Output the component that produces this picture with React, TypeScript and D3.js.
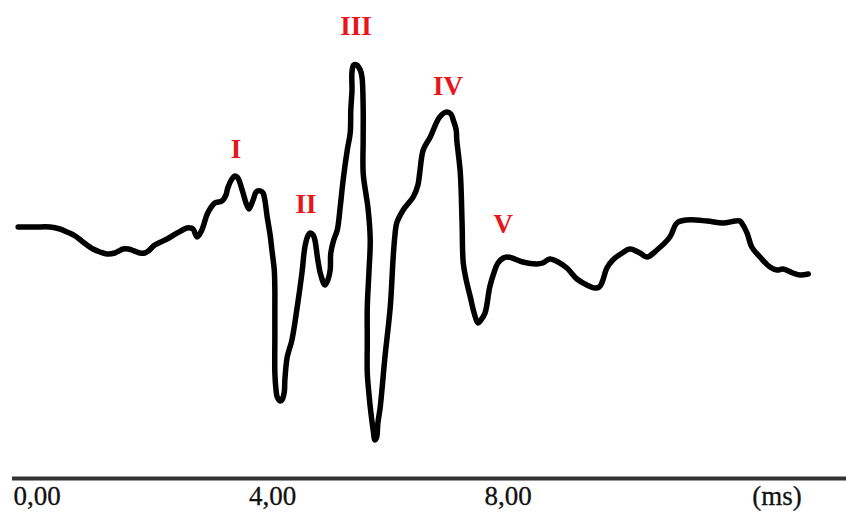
import { useEffect, useRef } from 'react';
import * as d3 from 'd3';

// trace of the evoked response
const timeMs = [
  -0.32, -0.03, 0.22, 0.39, 0.51, 0.65, 0.78, 0.95, 1.07, 1.19,
  1.32, 1.39, 1.46, 1.55, 1.61, 1.75, 1.83, 1.89, 2.0, 2.21,
  2.38, 2.55, 2.6, 2.65, 2.72, 2.8, 2.9, 3.02, 3.14, 3.21,
  3.24, 3.31, 3.36, 3.4, 3.43, 3.5, 3.55, 3.6, 3.67, 3.72,
  3.75, 3.8, 3.84, 3.87, 3.91, 3.96, 3.99, 4.03, 4.04, 4.04,
  4.04, 4.04, 4.06, 4.08, 4.13, 4.16, 4.2, 4.21, 4.25, 4.33,
  4.42, 4.5, 4.55, 4.6, 4.64, 4.69, 4.72, 4.77, 4.82, 4.89,
  4.94, 4.98, 4.99, 5.04, 5.1, 5.15, 5.2, 5.27, 5.32, 5.33,
  5.35, 5.35, 5.38, 5.43, 5.49, 5.52, 5.54, 5.54, 5.54, 5.59,
  5.62, 5.66, 5.64, 5.61, 5.61, 5.61, 5.64, 5.66, 5.71, 5.74,
  5.77, 5.79, 5.83, 5.91, 6.0, 6.05, 6.08, 6.11, 6.22, 6.39,
  6.47, 6.5, 6.56, 6.68, 6.84, 6.96, 7.03, 7.07, 7.12, 7.13,
  7.19, 7.22, 7.24, 7.29, 7.36, 7.42, 7.49, 7.54, 7.61, 7.69,
  7.76, 7.83, 7.92, 7.98, 8.07, 8.25, 8.49, 8.59, 8.71, 8.85,
  9.0, 9.17, 9.34, 9.48, 9.55, 9.6, 9.68, 9.78, 9.94, 10.07,
  10.24, 10.36, 10.53, 10.75, 10.87, 11.04, 11.38, 11.65, 11.86, 11.94,
  11.97, 12.06, 12.14, 12.28, 12.45, 12.57, 12.67, 12.84, 12.96, 13.1,
];

const amplitude = [
  0.46, 0.46, 0.46, 0.42, 0.36, 0.28, 0.16, 0.02, -0.04, -0.08,
  -0.06, -0.02, 0.02, 0.02, 0.0, -0.06, -0.06, -0.02, 0.1, 0.22,
  0.34, 0.44, 0.44, 0.42, 0.26, 0.4, 0.74, 0.94, 0.98, 1.1,
  1.24, 1.42, 1.48, 1.46, 1.4, 1.14, 0.94, 0.82, 1.0, 1.16,
  1.18, 1.18, 1.14, 1.0, 0.66, 0.3, 0.0, -0.4, -0.8, -1.14,
  -1.8, -2.46, -2.8, -2.94, -3.02, -3.0, -2.84, -2.6, -2.14, -1.8,
  -1.14, -0.46, 0.06, 0.28, 0.34, 0.3, 0.2, -0.2, -0.5, -0.7,
  -0.6, -0.4, -0.06, 0.2, 0.4, 0.86, 1.4, 2.0, 2.34, 2.8,
  3.2, 3.56, 3.7, 3.7, 3.6, 3.46, 2.86, 2.2, 1.54, 1.1,
  0.86, 0.2, -0.4, -1.14, -1.8, -2.46, -2.9, -3.14, -3.6, -3.8,
  -3.74, -3.46, -3.14, -2.14, -1.14, -0.14, 0.3, 0.54, 0.8, 1.06,
  1.3, 1.54, 2.0, 2.26, 2.66, 2.76, 2.72, 2.6, 2.4, 2.2,
  1.54, 0.54, -0.26, -0.6, -0.94, -1.24, -1.46, -1.4, -1.26, -0.74,
  -0.46, -0.26, -0.16, -0.14, -0.16, -0.24, -0.28, -0.26, -0.18, -0.24,
  -0.36, -0.58, -0.7, -0.76, -0.74, -0.64, -0.36, -0.2, -0.06, 0.02,
  -0.06, -0.14, 0.0, 0.26, 0.54, 0.6, 0.58, 0.54, 0.58, 0.58,
  0.54, 0.34, 0.06, -0.14, -0.34, -0.4, -0.38, -0.46, -0.5, -0.48,
];

// wave labels and where they sit (ms, amplitude of the text baseline)
const waveNames = ['I', 'II', 'III', 'IV', 'V'];
const waveLabelMs = [3.38, 4.57, 5.42, 6.98, 7.92];
const waveLabelAmp = [1.84, 0.74, 4.3, 3.1, 0.34];

const tickValues = [0, 4, 8];
const unitLabel = '(ms)';

const width = 846;
const height = 514;

const commaLocale = d3.formatLocale({
  decimal: ',',
  thousands: '.',
  grouping: [3],
  currency: ['', ''],
});
const fmt = commaLocale.format('.2f');

export default function App() {
  const svgRef = useRef<SVGSVGElement>(null);

  useEffect(() => {
    if (!svgRef.current) return;
    const svg = d3.select(svgRef.current);
    svg.selectAll('*').remove();

    const xScale = d3.scaleLinear().domain([0, 8]).range([37, 508]);
    const yScale = d3.scaleLinear().domain([-5, 5]).range([500, 0]);

    const axisY = 478.5;
    const serif = '"Liberation Serif", "Times New Roman", serif';

    // baseline axis
    svg.append('line')
      .attr('x1', 12)
      .attr('x2', width)
      .attr('y1', axisY)
      .attr('y2', axisY)
      .attr('stroke', '#333')
      .attr('stroke-width', 4);

    svg.append('g')
      .selectAll('text')
      .data(tickValues)
      .join('text')
      .attr('x', d => xScale(d))
      .attr('y', 505)
      .attr('text-anchor', 'middle')
      .attr('font-family', serif)
      .attr('font-size', 27)
      .attr('fill', '#111')
      .attr('stroke', '#111')
      .attr('stroke-width', 0.3)
      .text(d => fmt(d));

    svg.append('text')
      .attr('x', 777)
      .attr('y', 505)
      .attr('text-anchor', 'middle')
      .attr('font-family', serif)
      .attr('font-size', 27)
      .attr('fill', '#111')
      .attr('stroke', '#111')
      .attr('stroke-width', 0.3)
      .text(unitLabel);

    // Trace
    const points = timeMs.map((t, i) => [t, amplitude[i]] as [number, number]);
    const line = d3.line<[number, number]>()
      .x(d => xScale(d[0]))
      .y(d => yScale(d[1]))
      .curve(d3.curveCatmullRom.alpha(0.5));

    svg.append('path')
      .datum(points)
      .attr('fill', 'none')
      .attr('stroke', '#000')
      .attr('stroke-width', 5.5)
      .attr('stroke-linecap', 'round')
      .attr('stroke-linejoin', 'round')
      .attr('d', line);

    // Peak labels
    svg.append('g')
      .selectAll('text')
      .data(waveNames)
      .join('text')
      .attr('x', (_, i) => xScale(waveLabelMs[i]))
      .attr('y', (_, i) => yScale(waveLabelAmp[i]))
      .attr('text-anchor', 'middle')
      .attr('font-family', serif)
      .attr('font-size', 27)
      .attr('font-weight', 'bold')
      .attr('fill', '#e8161c')
      .text(d => d);
  }, []);

  return (
    <svg
      ref={svgRef}
      width={width}
      height={height}
      style={{ position: 'absolute', left: 0, top: 0, background: '#fff' }}
    />
  );
}
